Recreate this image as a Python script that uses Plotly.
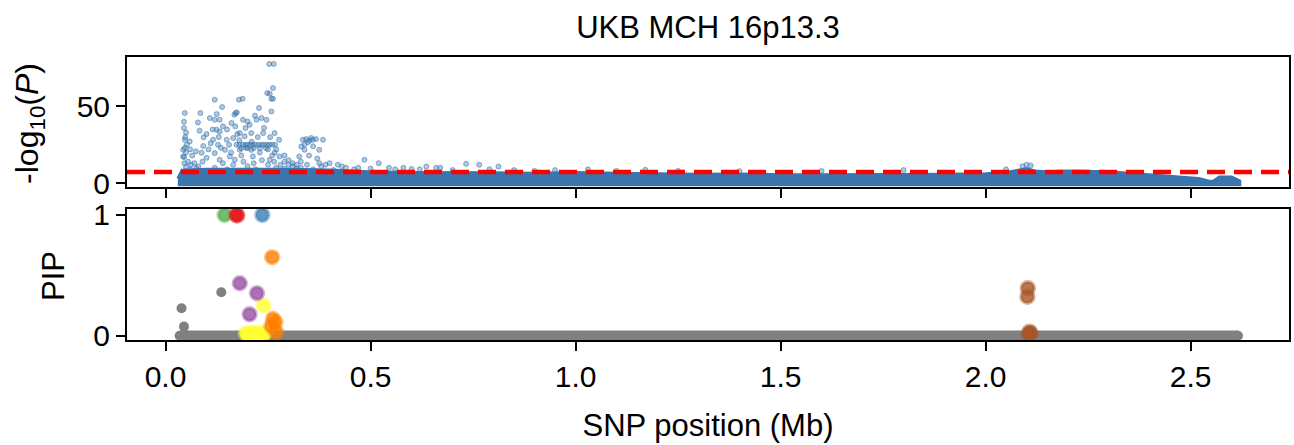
import plotly.graph_objects as go

# ---------------- data ----------------
title_text = "UKB MCH 16p13.3"
top_ylabel = "-log<sub>10</sub>(<i>P</i>)"
pip_ylabel = "PIP"
x_label = "SNP position (Mb)"

# dense band of -log10(P) values (envelope of the marker cloud, Mb / value)
band_x = [0.030, 0.040, 0.10, 0.20, 0.30, 0.40, 0.45, 0.50, 0.60, 0.70, 0.80, 0.90,
          1.00, 1.10, 1.20, 1.30, 1.40, 1.50, 1.60, 1.70, 1.80, 1.90, 2.00, 2.05,
          2.08, 2.10, 2.12, 2.15, 2.20, 2.30, 2.35, 2.40, 2.48, 2.52, 2.545, 2.555,
          2.57, 2.60, 2.62]
band_top = [3.0, 8.5, 9.0, 9.0, 9.0, 8.5, 8.0, 7.5, 7.0, 7.0, 6.8, 6.5,
            7.0, 6.5, 6.0, 5.8, 6.0, 5.5, 5.5, 5.5, 5.5, 5.8, 6.2, 7.0,
            8.5, 9.5, 8.0, 7.5, 8.0, 7.5, 6.5, 5.5, 4.0, 3.0, 1.2, 1.2,
            4.0, 4.0, 1.5]
band_floor = -1.1

# scattered SNPs above the band (position Mb, -log10 P)
snp_x = [0.047, 0.047, 0.059, 0.047, 0.050, 0.045, 0.055, 0.062, 0.050, 0.075,
         0.085, 0.079, 0.083, 0.093, 0.100, 0.092, 0.088, 0.100, 0.074, 0.043,
         0.046, 0.043, 0.108, 0.120, 0.132, 0.124, 0.132, 0.140, 0.116, 0.128,
         0.145, 0.120, 0.149, 0.132, 0.157, 0.161, 0.168, 0.174, 0.189, 0.200,
         0.195, 0.181, 0.209, 0.193, 0.165, 0.181, 0.209, 0.213, 0.169, 0.228,
         0.234, 0.222, 0.246, 0.238, 0.266, 0.277, 0.266, 0.254, 0.278, 0.173,
         0.180, 0.188, 0.195, 0.200, 0.207, 0.213, 0.220, 0.227, 0.234, 0.240,
         0.247, 0.253, 0.260, 0.267, 0.185, 0.200, 0.215, 0.230, 0.245, 0.120,
         0.138, 0.179, 0.188, 0.171, 0.258, 0.248, 0.254, 0.258, 0.262, 0.262,
         0.253, 0.264, 0.335, 0.343, 0.351, 0.355, 0.359, 0.367, 0.347, 0.339,
         0.384, 0.331, 0.339, 0.375, 0.326, 0.375, 0.290, 0.300, 0.310, 0.320,
         0.400, 0.420, 0.440, 0.460, 0.485, 0.520, 0.545, 0.580, 0.620, 0.636,
         0.660, 0.670, 0.700, 0.733, 0.765, 0.790, 0.812, 0.850, 0.900, 0.950,
         1.030, 1.100, 1.170, 1.250, 1.400, 1.600, 1.800, 2.050, 2.090, 2.100,
         2.110, 0.060, 0.120, 0.150, 0.200, 0.220, 0.250, 0.270, 0.290, 0.330,
         0.360, 0.380, 0.410,
         0.045, 0.045, 0.050, 0.048, 0.052, 0.060, 0.065, 0.070, 0.080, 0.090,
         0.105, 0.110, 0.115, 0.125, 0.130, 0.135, 0.140, 0.150, 0.155, 0.160,
         0.165, 0.170, 0.175, 0.180, 0.185, 0.190, 0.197, 0.205, 0.210, 0.215,
         0.218, 0.225, 0.230, 0.235, 0.240, 0.250, 0.255, 0.260, 0.265, 0.270,
         0.280, 0.290, 0.300, 0.310, 0.320, 0.330, 0.345, 0.350, 0.360, 0.370,
         0.390, 0.430, 0.470, 0.500, 0.560, 0.600]
snp_y = [45.7, 28.3, 27.2, 23.0, 20.0, 17.0, 14.0, 12.0, 10.5, 9.5,
         45.7, 39.6, 34.2, 29.9, 32.0, 24.2, 19.8, 16.5, 20.7, 17.4,
         13.0, 21.7, 42.4, 41.3, 41.3, 34.8, 33.7, 37.0, 28.3, 25.0,
         21.7, 19.6, 28.3, 15.2, 17.4, 39.2, 44.6, 46.1, 41.3, 40.2,
         35.9, 32.6, 32.6, 30.5, 29.4, 21.7, 21.7, 17.4, 15.2, 49.0,
         42.4, 41.3, 41.3, 32.6, 32.6, 28.3, 19.8, 15.2, 17.4, 25.0,
         25.0, 25.0, 25.0, 25.0, 25.0, 25.0, 25.0, 25.0, 25.0, 25.0,
         25.0, 25.0, 25.0, 25.0, 22.8, 22.8, 22.8, 22.8, 22.8, 54.4,
         49.6, 54.4, 55.0, 45.7, 46.7, 58.7, 58.3, 55.0, 55.0, 62.0,
         77.7, 77.7, 28.3, 28.7, 27.8, 29.4, 28.3, 28.7, 26.7, 25.2,
         28.3, 23.9, 21.7, 21.7, 17.4, 13.0, 14.0, 12.0, 11.0, 9.5,
         13.0, 12.0, 10.0, 9.0, 15.2, 13.0, 10.0, 10.0, 9.0, 10.8,
         10.0, 10.0, 8.5, 12.6, 12.0, 9.0, 10.8, 8.5, 8.0, 8.5,
         9.0, 8.0, 8.7, 8.0, 7.8, 8.0, 8.5, 9.0, 11.0, 12.0,
         11.5, 9.0, 10.0, 9.0, 11.0, 9.0, 12.0, 10.0, 9.5, 10.0,
         9.0, 11.0, 8.5,
         40.0, 36.0, 33.0, 30.0, 25.0, 22.0, 18.0, 13.0, 11.0, 14.0,
         22.0, 26.0, 35.0, 45.0, 30.0, 23.0, 13.0, 35.0, 25.0, 20.0,
         12.0, 37.0, 32.0, 28.0, 18.0, 14.0, 23.0, 38.0, 27.0, 13.0,
         44.0, 30.0, 20.0, 15.0, 36.0, 22.0, 30.0, 18.0, 14.0, 22.0,
         12.0, 18.0, 15.0, 13.0, 12.0, 14.0, 12.0, 18.0, 24.0, 16.0,
         12.0, 11.0, 10.0, 9.5, 9.0, 9.2]

gw_threshold = 7.3  # -log10(5e-8)

# PIP panel: non-credible SNPs (grey)
grey_band_x = [0.035, 2.615]
grey_band_y = [0.0, 0.0]
grey_pts_x = [0.039, 0.045, 0.136]
grey_pts_y = [0.227, 0.075, 0.360]

# credible-set SNPs (position Mb, PIP)
cs_green_x = [0.144];  cs_green_y = [1.0]
cs_red_x = [0.173, 0.175];  cs_red_y = [1.0, 0.995]
cs_blue_x = [0.236];  cs_blue_y = [1.0]
cs_orange_x = [0.260, 0.262, 0.268, 0.258, 0.270];  cs_orange_y = [0.65, 0.14, 0.11, 0.08, 0.03]
cs_purple_x = [0.181, 0.223, 0.205];  cs_purple_y = [0.434, 0.351, 0.177]
cs_yellow_x = [0.239, 0.196, 0.202, 0.208, 0.214, 0.220, 0.226, 0.232, 0.238, 0.242, 0.205, 0.225]
cs_yellow_y = [0.249, 0.02, 0.01, 0.025, 0.015, 0.02, 0.01, 0.025, 0.015, 0.02, 0.0, 0.0]
cs_brown_x = [2.103, 2.102, 2.107, 2.110, 2.105];  cs_brown_y = [0.393, 0.323, 0.033, 0.02, 0.01]

x_ticks = [0.0, 0.5, 1.0, 1.5, 2.0, 2.5]
top_y_ticks = [0, 50]
pip_y_ticks = [0, 1]

# ---------------- figure ----------------
W, H = 1294, 445
FONT = "Liberation Sans, Arial, sans-serif"
BLUE = "#3a75ae"

fig = go.Figure()

# band polygon
poly_x = band_x + band_x[::-1]
poly_y = band_top + [band_floor] * len(band_x)
fig.add_trace(go.Scatter(x=poly_x, y=poly_y, fill="toself", mode="lines",
                         line=dict(color=BLUE, width=3), fillcolor=BLUE,
                         hoverinfo="skip", showlegend=False, xaxis="x", yaxis="y"))
fig.add_trace(go.Scatter(x=snp_x, y=snp_y, mode="markers",
                         marker=dict(size=5, color="rgba(58,117,174,0.4)",
                                     line=dict(width=0.8, color="rgba(58,117,174,0.7)")),
                         showlegend=False, xaxis="x", yaxis="y"))

# PIP panel
fig.add_trace(go.Scatter(x=grey_band_x, y=grey_band_y, mode="lines+markers",
                         line=dict(color="#808080", width=10.5),
                         marker=dict(size=10.5, color="#808080"),
                         showlegend=False, xaxis="x2", yaxis="y2"))
fig.add_trace(go.Scatter(x=grey_pts_x, y=grey_pts_y, mode="markers",
                         marker=dict(size=10, color="#808080"),
                         showlegend=False, xaxis="x2", yaxis="y2"))

def cs_trace(xs, ys, rgb):
    r, g, b = rgb
    return go.Scatter(x=xs, y=ys, mode="markers",
                      marker=dict(size=13, color=f"rgba({r},{g},{b},0.8)",
                                  line=dict(width=3.5, color=f"rgba({r},{g},{b},0.45)")),
                      showlegend=False, xaxis="x2", yaxis="y2")

fig.add_trace(cs_trace(cs_yellow_x, cs_yellow_y, (255, 255, 51)))
fig.add_trace(cs_trace(cs_green_x, cs_green_y, (77, 175, 74)))
fig.add_trace(cs_trace(cs_red_x, cs_red_y, (228, 26, 28)))
fig.add_trace(cs_trace(cs_blue_x, cs_blue_y, (55, 126, 184)))
fig.add_trace(cs_trace(cs_orange_x, cs_orange_y, (255, 127, 0)))
fig.add_trace(cs_trace(cs_purple_x, cs_purple_y, (152, 78, 163)))
fig.add_trace(cs_trace(cs_brown_x, cs_brown_y, (166, 86, 40)))

# threshold line
fig.add_shape(type="line", xref="x domain", yref="y", x0=0, x1=1,
              y0=gw_threshold, y1=gw_threshold,
              line=dict(color="#ff0000", width=4.5, dash="18px,9px"))

L, R, T, B = 127, 3.3, 57.3, 105
ph = H - T - B
pw = W - L - R
axis_common = dict(showline=True, linecolor="black", linewidth=2, mirror=True,
                   ticks="outside", ticklen=9, tickwidth=2, tickcolor="black",
                   showgrid=False, zeroline=False,
                   tickfont=dict(family=FONT, size=30, color="black"))
xr = [-0.094, 2.74]

def px_to_paper_x(px):
    return (px - L) / pw

def px_to_paper_y(py):
    return (H - B - py) / ph

fig.add_annotation(text=top_ylabel, textangle=-90, xref="paper", yref="paper",
                   x=px_to_paper_x(30), y=px_to_paper_y(124), xanchor="center",
                   yanchor="middle", showarrow=False,
                   font=dict(family=FONT, size=32, color="black"))
fig.add_annotation(text=pip_ylabel, textangle=-90, xref="paper", yref="paper",
                   x=px_to_paper_x(54), y=px_to_paper_y(276), xanchor="center",
                   yanchor="middle", showarrow=False,
                   font=dict(family=FONT, size=31, color="black"))

fig.update_layout(
    width=W, height=H, autosize=False,
    margin=dict(l=L, r=R, t=T, b=B, pad=0),
    plot_bgcolor="white", paper_bgcolor="white",
    font=dict(family=FONT, color="black"),
    title=dict(text=title_text, xref="paper", x=0.5, xanchor="center",
               yref="container", y=1 - 27 / H, yanchor="middle",
               font=dict(family=FONT, size=31, color="black")),
    xaxis=dict(domain=[0, 1], range=xr, anchor="y", tickvals=x_ticks,
               showticklabels=False, **axis_common),
    yaxis=dict(domain=[(340 - 187) / ph, 1], range=[-2.4, 82.2], tickvals=top_y_ticks,
               **axis_common),
    xaxis2=dict(domain=[0, 1], range=xr, anchor="y2", tickvals=x_ticks,
                tickformat=".1f",
                title=dict(text=x_label, standoff=22,
                           font=dict(family=FONT, size=31, color="black")),
                **axis_common),
    yaxis2=dict(domain=[0, (340 - 209) / ph], range=[-0.036, 1.05], tickvals=pip_y_ticks,
                anchor="x2", **axis_common),
)

fig.write_html("out.html")
